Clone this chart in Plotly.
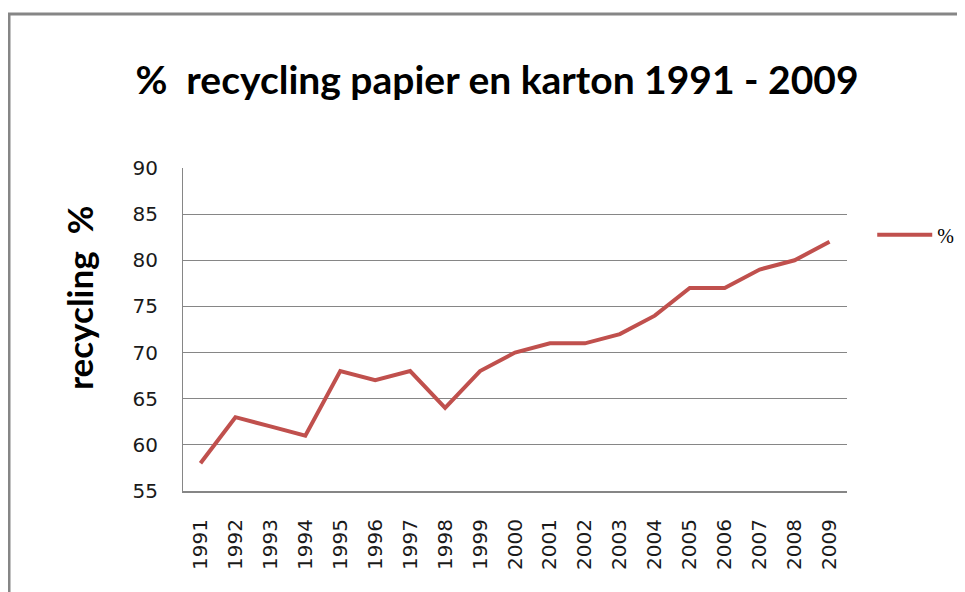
import plotly.graph_objects as go

years = [str(y) for y in range(1991, 2010)]
recycling = [58, 63, 62, 61, 68, 67, 68, 64, 68, 70, 71, 71, 72, 74, 77, 77, 79, 80, 82]
y_ticks = [55, 60, 65, 70, 75, 80, 85, 90]

# page has an 8px body margin; size the figure so it fits inside the 965x592 window
W, H = 957, 584
L, R, T, B = 175, 118, 160, 101
PW, PH = W - L - R, H - T - B

fig = go.Figure()
fig.add_trace(go.Scatter(
    x=years, y=recycling, mode="lines", name="%",
    line=dict(color="#C0504D", width=4),
))

fig.update_layout(
    width=W, height=H,
    margin=dict(l=L, r=R, t=T, b=B, autoexpand=False),
    paper_bgcolor="white", plot_bgcolor="white",
    title=dict(text="%  recycling papier en karton 1991 - 2009",
               font=dict(family="Lato", size=39, color="black", weight="bold"),
               x=(497 - 8) / W, xanchor="center", y=1 - 72 / H, yanchor="middle"),
    showlegend=True,
    legend=dict(x=1.038, y=0.793, xanchor="left", yanchor="middle",
                itemwidth=55,
                font=dict(family="Liberation Serif", size=20, color="black"),
                bgcolor="rgba(0,0,0,0)"),
    xaxis=dict(type="category", range=[-0.5, 18.5], tickangle=-90,
               showgrid=False, showline=True, linecolor="#868686", linewidth=2,
               ticks="outside", tickcolor="rgba(0,0,0,0)", ticklen=18,
               tickfont=dict(family="DejaVu Sans", size=20, color="#1a1a1a")),
    yaxis=dict(range=[55, 90], tickvals=y_ticks, showgrid=True,
               gridcolor="#868686", gridwidth=1,
               showline=True, linecolor="#868686", linewidth=1,
               ticks="outside", tickcolor="rgba(0,0,0,0)", ticklen=20,
               tickfont=dict(family="DejaVu Sans", size=20, color="#1a1a1a"),
               zeroline=False),
)

fig.add_annotation(text="recycling  %", textangle=-90, showarrow=False,
                   xref="paper", yref="paper",
                   x=(79 - 8 - L) / PW, y=1 - (298 - 8 - T) / PH,
                   xanchor="center", yanchor="middle",
                   font=dict(family="Lato", size=35, color="black", weight="bold"))

fig.add_shape(type="rect", xref="paper", yref="paper",
              x0=(1 - L) / PW, x1=(W + 10 - L) / PW,
              y0=-(B + 10) / PH, y1=1 + (T - 14 + 8) / PH,
              line=dict(color="#868686", width=3), fillcolor="rgba(0,0,0,0)", layer="below")

fig.write_html("out.html")
